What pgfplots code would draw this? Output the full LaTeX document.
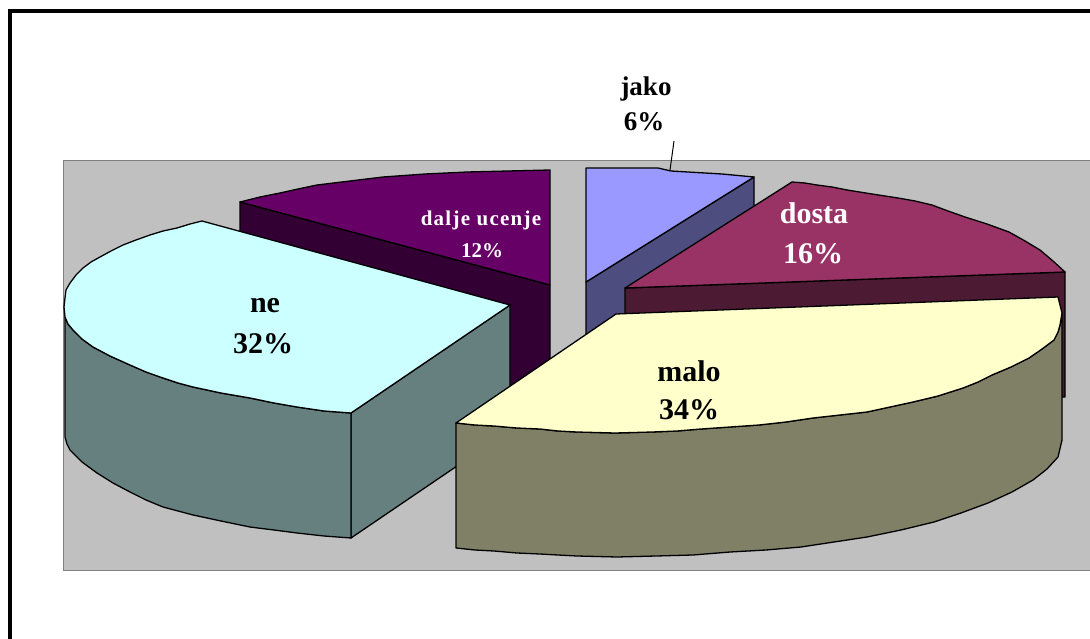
\documentclass[border=0pt]{standalone}
\usepackage{pgfplots}
\pgfplotsset{compat=1.18}
\usepackage{fontspec}
\setmainfont{Liberation Serif}

\definecolor{bggray}{HTML}{C0C0C0}
\definecolor{bgedge}{HTML}{808080}
\definecolor{netop}{HTML}{CCFFFF}
\definecolor{neside}{HTML}{668080}
\definecolor{daljetop}{HTML}{660066}
\definecolor{daljeside}{HTML}{330033}
\definecolor{jakotop}{HTML}{9999FF}
\definecolor{jakoside}{HTML}{4D4D80}
\definecolor{dostatop}{HTML}{993366}
\definecolor{dostaside}{HTML}{4D1A33}
\definecolor{malotop}{HTML}{FFFFCC}
\definecolor{maloside}{HTML}{808066}

\pgfplotsset{slice/.style={draw=black,line width=1.3pt,line join=round}}

\begin{document}
\begin{tikzpicture}
\path[use as bounding box] (0,0) rectangle (1090pt,639pt);
\begin{axis}[at={(0,0)},anchor=south west,width=1090pt,height=639pt,scale only axis,hide axis,
 xmin=0,xmax=1090,ymin=0,ymax=639,y dir=reverse,clip=true]

% plot area and outer frame
\addplot[draw=bgedge,line width=1pt,fill=bggray] coordinates {(63,160.5) (1095,160.5) (1095,570) (63,570)} -- cycle;
\addplot[draw=black,line width=4pt] coordinates {(1095,11) (9.5,11) (9.5,645)};

% jako
\addplot[slice,fill=jakoside] coordinates {(586,282) (754,177) (754,302) (586,407)} -- cycle;
\addplot[slice,fill=jakotop] coordinates {(586,168) (658,168) (671,171) (722,174) (754,177) (586,282)} -- cycle;
\addplot[draw=black,line width=1pt] coordinates {(674,141) (670,170)};

% dalje ucenje
\addplot[slice,fill=daljeside] coordinates {(240,202) (550,285) (550,410) (240,327)} -- cycle;
\addplot[slice,fill=daljetop] coordinates {(240,202) (260,197) (280,193) (298,189) (317,185) (350,181) (383,177) (425,174) (467,172) (508,171) (550,170) (550,285)} -- cycle;

% dosta
\addplot[slice,fill=dostaside] coordinates {(625,288) (1065,272) (1065,397) (625,413)} -- cycle;
\addplot[slice,fill=dostatop] coordinates {(625,288) (792,182) (805,183) (817,185) (832,187) (847,190) (872,194) (898,198) (915,201) (932,205) (948,211) (965,217) (987,224) (1009,232) (1025,241) (1040,250) (1053,261) (1065,272)} -- cycle;

% ne
\addplot[slice,fill=neside] coordinates {(351,413) (510,305) (510,430) (351,538)} -- cycle;
\addplot[slice,fill=neside] coordinates {(65,305) (65,437) (67,444) (70,450) (82,462) (97,473) (113,483) (130,492) (146,500) (163,507) (178,511) (193,515) (221,521) (250,527) (274,530) (297,533) (324,536) (351,538) (351,413) (324,411) (297,407) (274,403) (250,398) (221,393) (193,387) (178,383) (163,378) (146,372) (130,365) (110,356) (93,347) (82,339) (73,330) (68,324) (65,317)} -- cycle;
\addplot[slice,fill=netop] coordinates {(202,221) (510,305) (351,413) (324,411) (297,407) (274,403) (250,398) (221,393) (193,387) (178,383) (163,378) (146,372) (130,365) (110,356) (93,347) (82,339) (73,330) (68,324) (65,317) (64,307) (65,298) (66,290) (70,283) (76,275) (83,268) (91,262) (100,257) (111,251) (123,245) (136,240) (150,235) (163,231) (177,228) (190,224)} -- cycle;

% malo
\addplot[slice,fill=maloside] coordinates {(456,423) (475,425) (494,426) (517,428) (540,429) (558,431) (577,432) (615,433) (652,432) (677,431) (701,429) (730,427) (759,425) (786,422) (813,418) (840,415) (867,412) (890,407) (913,402) (938,396) (963,388) (978,382) (992,375) (1011,367) (1029,358) (1042,349) (1054,340) (1058,332) (1060,325) (1062,313) (1062,440) (1058,457) (1047,469) (1033,480) (1012,492) (988,503) (961,513) (934,522) (901,530) (867,537) (834,542) (801,547) (766,550) (730,552) (693,555) (656,556) (617,557) (577,556) (558,555) (540,554) (517,553) (494,551) (475,550) (456,548)} -- cycle;
\addplot[slice,fill=malotop] coordinates {(456,423) (616,314) (1058,297) (1062,313) (1060,325) (1058,332) (1054,340) (1042,349) (1029,358) (1011,367) (992,375) (978,382) (963,388) (938,396) (913,402) (890,407) (867,412) (840,415) (813,418) (786,422) (759,425) (730,427) (701,429) (677,431) (652,432) (615,433) (577,432) (558,431) (540,429) (517,428) (494,426) (475,425)} -- cycle;

% labels
\node[font=\fontsize{27}{27}\selectfont\bfseries] at (axis cs:646,89) {jako};
\node[font=\fontsize{27}{27}\selectfont\bfseries] at (axis cs:644,122) {6\%};
\node[font=\fontsize{21}{21}\selectfont\bfseries\addfontfeatures{LetterSpace=6},text=white] at (axis cs:481,220) {dalje ucenje};
\node[font=\fontsize{21}{21}\selectfont\bfseries,text=white] at (axis cs:482,251) {12\%};
\node[font=\fontsize{30}{30}\selectfont\bfseries,text=white] at (axis cs:814,213) {dosta};
\node[font=\fontsize{30}{30}\selectfont\bfseries,text=white] at (axis cs:813,254) {16\%};
\node[font=\fontsize{30}{30}\selectfont\bfseries] at (axis cs:265,306) {ne};
\node[font=\fontsize{30}{30}\selectfont\bfseries] at (axis cs:263,344) {32\%};
\node[font=\fontsize{30}{30}\selectfont\bfseries] at (axis cs:689,371) {malo};
\node[font=\fontsize{30}{30}\selectfont\bfseries] at (axis cs:689,410) {34\%};
\end{axis}
\end{tikzpicture}
\end{document}
